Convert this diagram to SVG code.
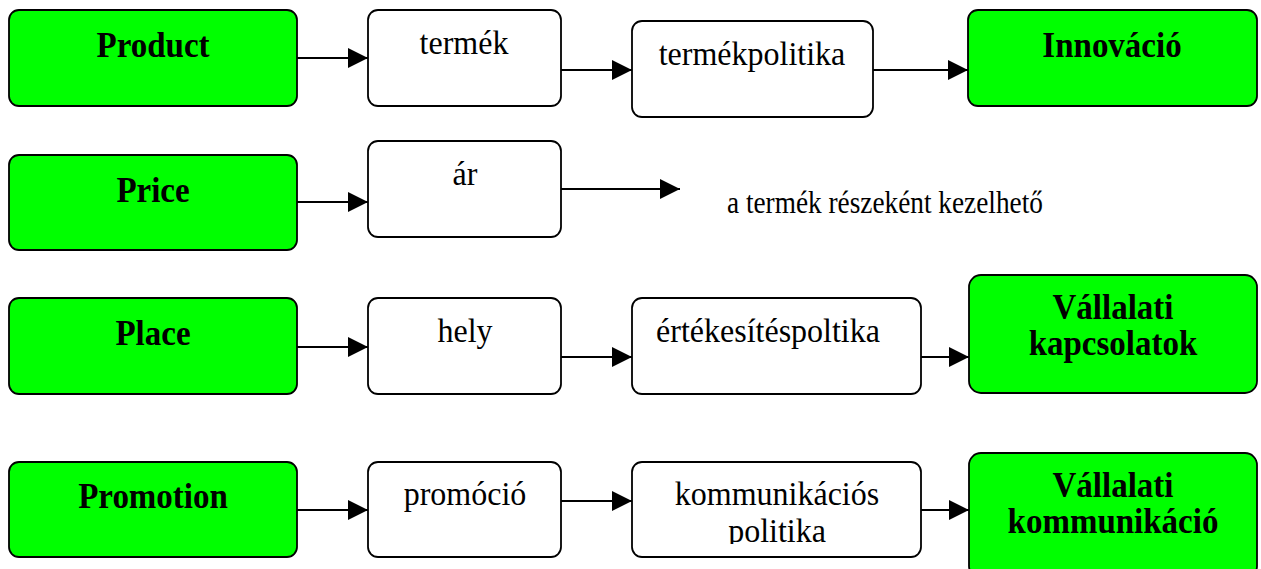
<svg xmlns="http://www.w3.org/2000/svg" width="1261" height="569" viewBox="0 0 1261 569">
  <defs>
    <marker id="arrow" markerUnits="userSpaceOnUse" markerWidth="20" markerHeight="20" refX="20" refY="10" orient="auto">
      <path d="M0,0 L20,10 L0,20 Z" fill="#000"/>
    </marker>
    <clipPath id="clip-komm">
      <rect x="632" y="462" width="289" height="82"/>
    </clipPath>
  </defs>
  <style>
    .key { fill: #00ff00; stroke: #000; stroke-width: 1.8; }
    .step { fill: #fff; stroke: #000; stroke-width: 1.8; }
    .bold { font-family: "Liberation Serif", "Times New Roman", serif; font-weight: bold; font-size: 33px; fill: #000; text-anchor: middle; }
    .txt { font-family: "Liberation Serif", "Times New Roman", serif; font-size: 32px; fill: #000; text-anchor: middle; }
    .note { font-family: "Liberation Serif", "Times New Roman", serif; font-size: 27.3px; fill: #000; }
    .link { stroke: #000; stroke-width: 1.8; fill: none; marker-end: url(#arrow); }
  </style>
  <rect width="1261" height="569" fill="#fff"/>

  <!-- Row 1: Product -->
  <g id="product">
    <rect class="key" x="9" y="10" width="288" height="96" rx="10"/>
    <text class="bold" transform="translate(153 57) scale(1 1.08)" font-size="34">Product</text>
  </g>
  <g id="termek">
    <rect class="step" x="368" y="10" width="193" height="96" rx="10"/>
    <text class="txt" transform="translate(464 54) scale(1 1.08)">termék</text>
  </g>
  <g id="termekpolitika">
    <rect class="step" x="632" y="21" width="241" height="96" rx="10"/>
    <text class="txt" transform="translate(752 65) scale(1 1.08)">termékpolitika</text>
  </g>
  <g id="innovacio">
    <rect class="key" x="968" y="10" width="289" height="96" rx="10"/>
    <text class="bold" transform="translate(1112 57) scale(1 1.08)" font-size="32">Innováció</text>
  </g>

  <!-- Row 2: Price -->
  <g id="price">
    <rect class="key" x="9" y="155" width="288" height="95" rx="10"/>
    <text class="bold" transform="translate(153 202) scale(1 1.08)" font-size="34">Price</text>
  </g>
  <g id="ar">
    <rect class="step" x="368" y="141" width="193" height="96" rx="10"/>
    <text class="txt" transform="translate(465 185) scale(1 1.08)">ár</text>
  </g>
  <g id="reszekent">
    <text class="note" transform="translate(727 213) scale(1 1.12)">a termék részeként kezelhető</text>
  </g>

  <!-- Row 3: Place -->
  <g id="place">
    <rect class="key" x="9" y="298" width="288" height="96" rx="10"/>
    <text class="bold" transform="translate(153 345) scale(1 1.08)" font-size="35">Place</text>
  </g>
  <g id="hely">
    <rect class="step" x="368" y="298" width="193" height="96" rx="10"/>
    <text class="txt" transform="translate(465 342) scale(1 1.08)">hely</text>
  </g>
  <g id="ertekesitespoltika">
    <rect class="step" x="632" y="298" width="289" height="96" rx="10"/>
    <text class="txt" transform="translate(768 342) scale(1 1.08)">értékesítéspoltika</text>
  </g>
  <g id="vallalati-kapcsolatok">
    <rect class="key" x="969" y="275" width="288" height="118" rx="12"/>
    <text class="bold" transform="translate(1113 319) scale(1 1.08)" font-size="32">Vállalati</text>
    <text class="bold" transform="translate(1113 355) scale(1 1.08)" font-size="32">kapcsolatok</text>
  </g>

  <!-- Row 4: Promotion -->
  <g id="promotion">
    <rect class="key" x="9" y="462" width="288" height="95" rx="10"/>
    <text class="bold" transform="translate(153 508) scale(1 1.08)" font-size="32">Promotion</text>
  </g>
  <g id="promocio">
    <rect class="step" x="368" y="462" width="193" height="95" rx="10"/>
    <text class="txt" transform="translate(465 505) scale(1 1.08)">promóció</text>
  </g>
  <g id="kommunikacios-politika">
    <rect class="step" x="632" y="462" width="289" height="95" rx="10"/>
    <text class="txt" transform="translate(777 505) scale(1 1.08)">kommunikációs</text>
    <g clip-path="url(#clip-komm)">
      <text class="txt" transform="translate(777 542) scale(1 1.08)">politika</text>
    </g>
  </g>
  <g id="vallalati-kommunikacio">
    <rect class="key" x="969" y="453" width="288" height="125" rx="12"/>
    <text class="bold" transform="translate(1113 497) scale(1 1.08)" font-size="32">Vállalati</text>
    <text class="bold" transform="translate(1113 533) scale(1 1.08)" font-size="32">kommunikáció</text>
  </g>

  <!-- Connectors -->
  <g id="connectors">
    <line class="link" x1="297" y1="58" x2="368" y2="58"/>
    <line class="link" x1="561" y1="70" x2="632" y2="70"/>
    <line class="link" x1="873" y1="70" x2="968" y2="70"/>

    <line class="link" x1="297" y1="202" x2="368" y2="202"/>
    <line class="link" x1="561" y1="189" x2="680" y2="189"/>

    <line class="link" x1="297" y1="347" x2="368" y2="347"/>
    <line class="link" x1="561" y1="357" x2="632" y2="357"/>
    <line class="link" x1="921" y1="357" x2="969" y2="357"/>

    <line class="link" x1="297" y1="510" x2="368" y2="510"/>
    <line class="link" x1="561" y1="501" x2="632" y2="501"/>
    <line class="link" x1="921" y1="510" x2="969" y2="510"/>
  </g>
</svg>
